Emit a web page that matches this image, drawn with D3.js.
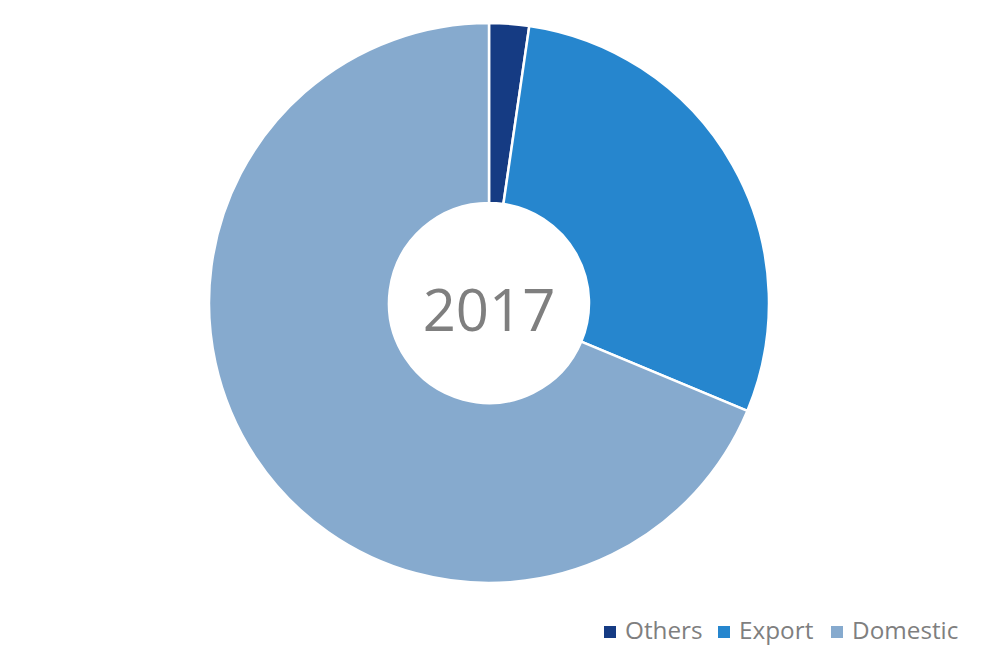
<!DOCTYPE html>
<html><head><meta charset="utf-8">
<script src="https://cdn.jsdelivr.net/npm/d3@7"></script>
<style>body{margin:0;background:#fff}svg{display:block}</style>
</head><body><svg id="c" width="1000" height="665"></svg>
<script>
const categories = ["Others", "Export", "Domestic"];
const values = [2.3, 29.0, 68.7];
const colors = ["#153B83", "#2686CE", "#86AACE"];
const centerLabel = "2017";

const svg = d3.select("#c");
const cx = 489, cy = 303, rOuter = 280, rInner = 100;
const g = svg.append("g").attr("transform", `translate(${cx},${cy})`);
const data = categories.map((c, i) => ({c, v: values[i], col: colors[i]}));
const pie = d3.pie().value(d => d.v).sort(null);
const arc = d3.arc().innerRadius(rInner).outerRadius(rOuter);
g.selectAll("path").data(pie(data)).join("path")
  .attr("d", arc).attr("fill", d => d.data.col)
  .attr("stroke", "#fff").attr("stroke-width", 2.5).attr("stroke-linejoin", "round");
g.append("text").attr("x", 0).attr("y", 28).attr("text-anchor", "middle")
  .attr("font-family", "Open Sans").attr("font-size", 58).attr("fill", "#7F7F7F")
  .text(centerLabel);

const leg = svg.append("g").attr("font-family", "Open Sans").attr("font-size", 24.3).attr("fill", "#7F7F7F");
const xs = [604, 718, 831];
data.forEach((d, i) => {
  leg.append("rect").attr("x", xs[i]).attr("y", 626).attr("width", 12).attr("height", 12).attr("fill", d.col);
  leg.append("text").attr("x", xs[i] + 21).attr("y", 638.5).text(d.c);
});
</script></body></html>
